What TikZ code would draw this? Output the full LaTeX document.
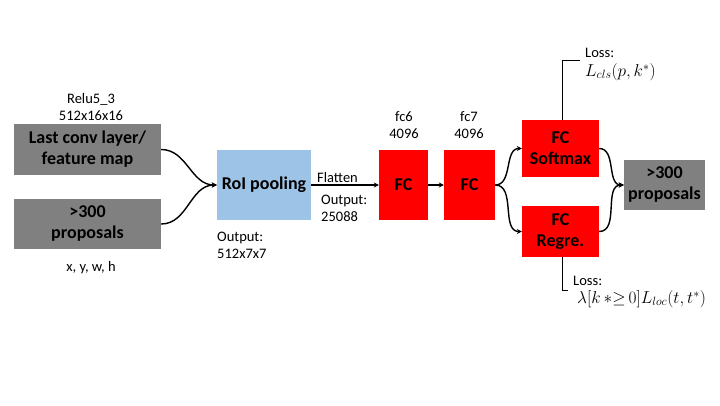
\documentclass[tikz,border=0pt]{standalone}
\usepackage{fontspec}
\setmainfont{Carlito}
\usetikzlibrary{arrows.meta}
\definecolor{boxgray}{RGB}{128,128,128}
\definecolor{roiblue}{RGB}{157,195,230}
\definecolor{fcred}{RGB}{255,0,0}
\tikzset{
  box/.style={draw=none, inner sep=0pt, align=center, font=\fontsize{18}{21}\selectfont\bfseries},
  lbl/.style={inner sep=0pt, align=center, font=\fontsize{14.5}{17}\selectfont},
  lbll/.style={inner sep=0pt, align=left, anchor=west, font=\fontsize{14.5}{17}\selectfont},
  mth/.style={inner sep=0pt, anchor=west, font=\fontsize{17}{20}\selectfont},
  conn/.style={line width=1.4pt, -{Stealth[length=5pt,width=5pt]}},
  thin/.style={line width=0.8pt}
}
\begin{document}
\begin{tikzpicture}[x=1pt,y=-1pt]
\useasboundingbox[fill=white] (0,0) rectangle (720,405);
% boxes
\node[box, fill=boxgray, minimum width=147pt, minimum height=51pt] (conv) at (87.5,149.5) {Last conv layer/\\feature map};
\node[box, fill=boxgray, minimum width=147pt, minimum height=50pt] (prop) at (87.5,224) {\textgreater300\\proposals};
\node[box, fill=roiblue, minimum width=94pt, minimum height=70pt] (roi) at (264,185) {RoI pooling};
\node[box, fill=fcred, minimum width=49pt, minimum height=70pt] (fc6) at (403.5,185) {FC};
\node[box, fill=fcred, minimum width=51pt, minimum height=70pt] (fc7) at (469.5,185) {FC};
\node[box, fill=fcred, minimum width=77pt, minimum height=57pt] (soft) at (560.5,148.5) {FC\\Softmax};
\node[box, fill=fcred, minimum width=77pt, minimum height=51pt] (reg) at (560.5,231.5) {FC\\Regre.};
\node[box, fill=boxgray, minimum width=81pt, minimum height=50pt] (out) at (664.5,185) {\textgreater300\\proposals};
% labels
\node[lbl] (relu) at (91,107) {Relu5\_3\\512x16x16};
\node[lbl] (xywh) at (91,268) {x, y, w, h};
\node[lbll] (roiout) at (217,245) {Output:\\512x7x7};
\node[lbl, anchor=south west] (flat) at (317,183) {Flatten};
\node[lbll] (flatout) at (321,208) {Output:\\25088};
\node[lbl] (fc6l) at (404,125) {fc6\\4096};
\node[lbl] (fc7l) at (469,125) {fc7\\4096};
\node[lbll] (loss1) at (585,53) {Loss:};
\node[mth] (cls) at (585,72) {$L_{cls}(p,k^{*})$};
\node[lbll] (loss2) at (573,281) {Loss:};
\node[mth] (loc) at (577,299) {$\lambda[k\,{*}{\geq}\,0]L_{loc}(t,t^{*})$};
% connectors
\draw[conn] (conv.east) to[out=0,in=180] (roi.west);
\draw[conn] (prop.east) to[out=0,in=180] (roi.west);
\draw[conn] (roi.east) -- (fc6.west);
\draw[conn] (fc6.east) -- (fc7.west);
\draw[conn] (fc7.east) to[out=0,in=180] (soft.west);
\draw[conn] (fc7.east) to[out=0,in=180] (reg.west);
\draw[conn] (soft.east) to[out=0,in=180] (out.west);
\draw[conn] (reg.east) to[out=0,in=180] (out.west);
\coordinate (c1) at (562,60);
\coordinate (c2) at (580,60);
\coordinate (c3) at (562,290);
\coordinate (c4) at (568,290);
\draw[thin] (soft.north -| c1) -- (c1) -- (c2);
\draw[thin] (reg.south -| c3) -- (c3) -- (c4);
\end{tikzpicture}
\end{document}
